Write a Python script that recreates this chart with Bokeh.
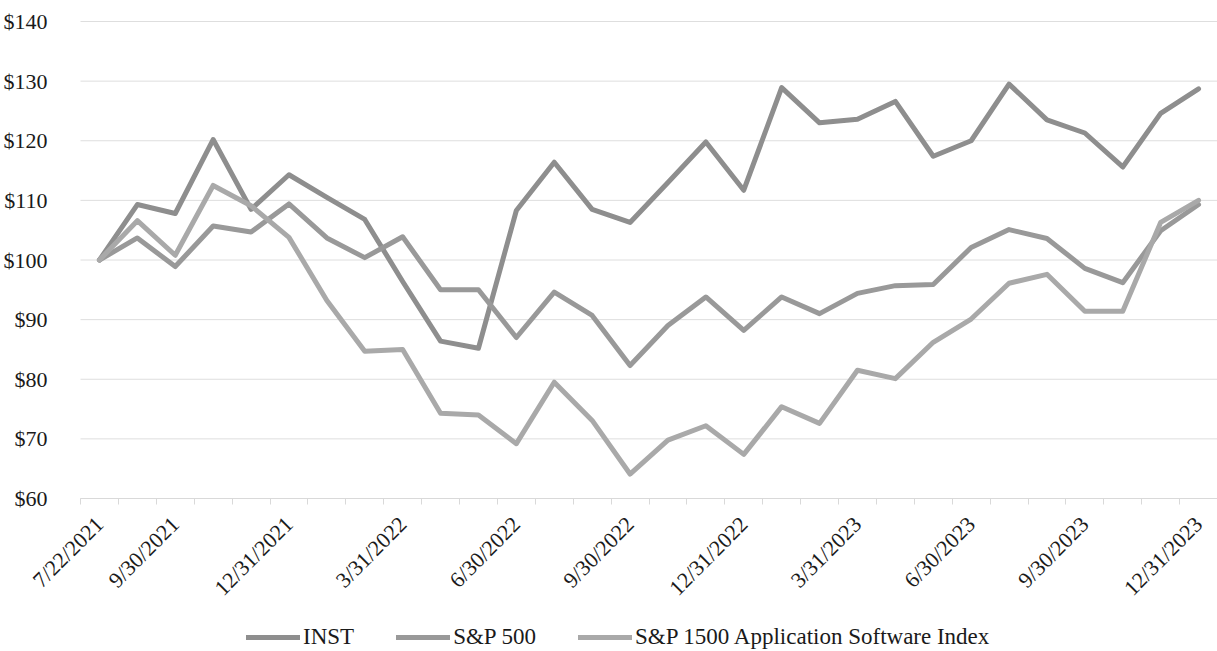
import math
from bokeh.plotting import figure
from bokeh.models import (FixedTicker, NumeralTickFormatter, Legend, LegendItem,
                          Range1d, ColumnDataSource)
from bokeh.embed import file_html
from bokeh.resources import INLINE

dates = ["7/22/2021", "8/31/2021", "9/30/2021", "10/31/2021", "11/30/2021", "12/31/2021",
         "1/31/2022", "2/28/2022", "3/31/2022", "4/30/2022", "5/31/2022", "6/30/2022",
         "7/31/2022", "8/31/2022", "9/30/2022", "10/31/2022", "11/30/2022", "12/31/2022",
         "1/31/2023", "2/28/2023", "3/31/2023", "4/30/2023", "5/31/2023", "6/30/2023",
         "7/31/2023", "8/31/2023", "9/30/2023", "10/31/2023", "11/30/2023", "12/31/2023"]

tick_labels = ["7/22/2021", "9/30/2021", "12/31/2021", "3/31/2022", "6/30/2022", "9/30/2022",
               "12/31/2022", "3/31/2023", "6/30/2023", "9/30/2023", "12/31/2023"]

inst = [100, 109.3, 107.8, 120.2, 108.5, 114.3, 110.5, 106.8, 96.4, 86.4, 85.2, 108.3,
        116.4, 108.5, 106.3, 113.0, 119.8, 111.7, 128.9, 123.0, 123.6, 126.6, 117.4, 120.0,
        129.5, 123.5, 121.3, 115.6, 124.6, 128.7]

sp500 = [100, 103.7, 98.9, 105.7, 104.7, 109.4, 103.7, 100.4, 103.9, 95.0, 95.0, 87.0,
         94.6, 90.7, 82.3, 89.0, 93.8, 88.2, 93.8, 91.0, 94.4, 95.7, 95.9, 102.1,
         105.1, 103.6, 98.6, 96.2, 104.9, 109.3]

software = [100, 106.6, 100.8, 112.5, 109.1, 103.8, 93.2, 84.7, 85.0, 74.3, 74.0, 69.2,
            79.5, 73.1, 64.1, 69.8, 72.2, 67.4, 75.4, 72.6, 81.5, 80.1, 86.2, 90.1,
            96.1, 97.6, 91.4, 91.4, 106.3, 110.0]

y_ticks = [60, 70, 80, 90, 100, 110, 120, 130, 140]

series_names = ["INST", "S&P 500", "S&P 1500 Application Software Index"]
series_colors = ["#8e8e8e", "#999999", "#a9a9a9"]

FONT = "Liberation Serif"

# ---- layout (pixels): plot area 80..1217 wide, 21..498 tall ----
W, H = 1217, 651
AREA_LEFT, AREA_TOP, AREA_BOTTOM = 80, 21, 498
n = len(dates)
x_lo, x_hi = -0.5, n - 0.5
px_x = (W - AREA_LEFT) / (x_hi - x_lo)
y_lo, y_hi = min(y_ticks), max(y_ticks)
px_y = (AREA_BOTTOM - AREA_TOP) / (y_hi - y_lo)

x_range = Range1d(x_lo - AREA_LEFT / px_x, x_hi)
y_range = Range1d(y_hi - (H - AREA_TOP) / px_y, y_hi + AREA_TOP / px_y)

idx = list(range(n))
src = ColumnDataSource(dict(x=idx, inst=inst, sp500=sp500, software=software))

p = figure(width=W, height=H, output_backend="svg", toolbar_location=None,
           x_range=x_range, y_range=y_range, min_border=0,
           min_border_left=0, min_border_top=0, min_border_right=0, min_border_bottom=0)
p.outline_line_color = None
p.background_fill_color = "white"

# horizontal gridlines limited to the plot area
p.xgrid.grid_line_color = None
p.ygrid.grid_line_color = None
p.segment(x0=[x_lo] * len(y_ticks), x1=[x_hi] * len(y_ticks), y0=y_ticks, y1=y_ticks,
          line_color="#dedede", line_width=1)

renderers = []
for key, name, col in zip(["inst", "sp500", "software"], series_names, series_colors):
    r = p.line("x", key, source=src, line_color=col, line_width=5,
               line_join="round", line_cap="round")
    renderers.append(r)

# x axis, pinned at $60
label_idx = [dates.index(t) for t in tick_labels]
p.xaxis.fixed_location = y_lo
p.xaxis.bounds = (x_lo, x_hi)
p.xaxis.ticker = FixedTicker(ticks=label_idx,
                             minor_ticks=[i - 0.5 for i in range(n + 1)])
p.xaxis.major_label_overrides = {i: dates[i] for i in label_idx}
p.xaxis.major_label_orientation = math.pi / 4
p.xaxis.major_tick_line_color = None
p.xaxis.minor_tick_line_color = "#d9d9d9"
p.xaxis.minor_tick_in = 0
p.xaxis.minor_tick_out = 6
p.xaxis.axis_line_color = "#d9d9d9"
p.xaxis.major_label_text_font = FONT
p.xaxis.major_label_text_font_size = "22px"
p.xaxis.major_label_text_color = "#1a1a1a"
p.xaxis.major_label_standoff = 16

# y axis, pinned at the left edge of the plot area
p.yaxis.fixed_location = x_lo
p.yaxis.bounds = (y_lo, y_hi)
p.yaxis.ticker = FixedTicker(ticks=y_ticks)
p.yaxis.formatter = NumeralTickFormatter(format="$0")
p.yaxis.axis_line_color = None
p.yaxis.major_tick_line_color = None
p.yaxis.minor_tick_line_color = None
p.yaxis.major_label_text_font = FONT
p.yaxis.major_label_text_font_size = "22px"
p.yaxis.major_label_text_color = "#1a1a1a"
p.yaxis.major_label_standoff = 27

legend = Legend(items=[LegendItem(label=nm, renderers=[r]) for nm, r in zip(series_names, renderers)],
                orientation="horizontal", location=(246, 1),
                label_text_font=FONT, label_text_font_size="23px",
                label_text_color="#1a1a1a", glyph_width=54, label_standoff=3,
                spacing=42, border_line_color=None, background_fill_alpha=0,
                margin=0, padding=0)
p.add_layout(legend, "center")

open("out.html", "w").write(file_html(p, INLINE))
